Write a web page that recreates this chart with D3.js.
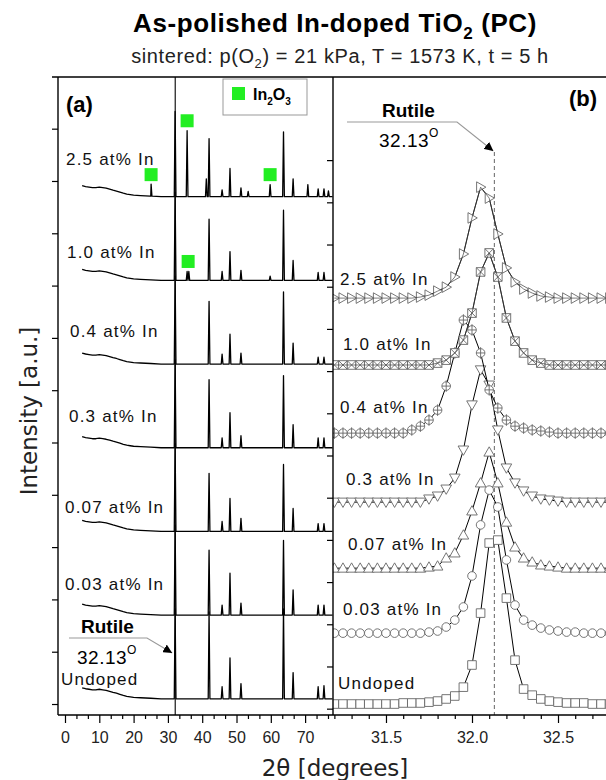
<!DOCTYPE html>
<html><head><meta charset="utf-8">
<script src="https://cdn.jsdelivr.net/npm/d3@7/dist/d3.min.js"></script>
<style>html,body{margin:0;padding:0;background:#fff}svg{display:block}</style>
</head><body>
<script>
// ================= DATA =================
// Panel (a): XRD patterns (2θ in degrees, intensity a.u.)
const samplesA = ["Undoped","0.03 at% In","0.07 at% In","0.3 at% In","0.4 at% In","1.0 at% In","2.5 at% In"];
const offsetsA = [50, 850, 1650, 2450, 3250, 4050, 4850];
const backgroundA = [[5,105],[6,96],[7,91],[8,86],[9,86],[10,91],[11,86],[12,81],[13,72],[14,62],[15,53],[16,43],[17,33],[18,24],[19,19],[20,14],[22,10],[25,5],[28,0],[78,0]];
const peaksUndoped = [[32.1,860],[42.0,830],[45.8,115],[48.1,390],[51.3,145],[63.7,860],[66.5,250],[73.8,115],[75.5,125]];
const peaks003 = [[32.1,860],[42.0,620],[45.8,95],[48.1,400],[51.3,115],[63.7,715],[66.5,240],[73.8,95],[75.5,95]];
const peaks007 = [[32.1,840],[42.0,555],[45.8,95],[48.1,315],[51.3,125],[63.7,640],[66.5,220],[73.8,75],[75.5,75]];
const peaks03 = [[32.1,840],[42.0,650],[45.8,95],[48.1,335],[51.3,115],[63.7,690],[66.5,220],[73.8,95],[75.5,95]];
const peaks04 = [[32.1,840],[42.0,600],[45.8,95],[48.1,285],[51.3,105],[63.7,690],[66.5,200],[73.8,65],[75.5,65]];
const peaks10 = [[32.1,840],[35.6,85],[36.1,85],[42.0,585],[45.8,85],[48.1,275],[51.3,95],[59.8,40],[63.7,670],[66.5,190],[73.8,75],[75.5,75]];
const peaks25 = [[25.1,115],[32.1,815],[35.6,630],[41.2,170],[42.0,555],[45.8,65],[48.1,270],[51.3,85],[53.4,50],[59.8,115],[63.7,620],[66.5,170],[70.8,115],[73.8,75],[75.5,75],[76.8,55]];
// In2O3 reflections marked with green squares
const in2o3Theta = [25.1, 35.6, 59.8, 35.9];
const in2o3Sample = [6, 6, 6, 5];
const in2o3Height = [115, 630, 115, 85];
const xTicksA = [0,10,20,30,40,50,60,70];
const yTicksA = [0,500,1000,1500,2000,2500,3000,3500,4000,4500,5000,5500];
const rutilePeak = 32.13;

// Panel (b): zoom on the rutile reflection
const thetaB = [31.20,31.25,31.30,31.35,31.40,31.45,31.50,31.55,31.60,31.65,31.70,31.75,31.80,31.85,31.90,31.95,32.00,32.05,32.10,32.15,32.20,32.25,32.30,32.35,32.40,32.45,32.50,32.55,32.60,32.65,32.70,32.75,32.80];
const intUndoped = [22,22,22,22,22,22,22,22,27,27,27,31,36,46,60,102,207,453,785,799,524,230,93,64,46,36,31,27,27,27,22,22,22];
const int003 = [358,358,358,358,358,358,358,358,358,358,358,363,368,387,420,482,629,871,1036,956,705,491,420,396,382,373,368,363,363,358,358,358,358];
const int007 = [666,666,666,666,666,666,666,666,666,666,666,671,676,714,738,823,937,1070,1216,1070,884,766,714,695,681,676,671,666,666,666,666,666,666];
const int03 = [979,979,979,979,979,979,979,979,979,979,979,994,1008,1041,1093,1226,1440,1606,1534,1321,1141,1070,1032,1008,994,989,984,979,979,979,979,979,979];
const int04 = [1306,1306,1306,1306,1306,1306,1306,1306,1306,1321,1339,1368,1415,1529,1686,1842,1795,1686,1511,1425,1368,1339,1330,1321,1316,1311,1306,1306,1306,1306,1306,1306,1306];
const int10 = [1629,1629,1629,1629,1629,1629,1629,1629,1629,1629,1629,1629,1638,1652,1686,1747,1875,2070,2160,2046,1852,1742,1686,1652,1638,1629,1629,1629,1629,1629,1629,1629,1629];
const int25 = [1946,1946,1946,1946,1946,1946,1946,1946,1946,1946,1951,1960,1979,1998,2046,2155,2326,2472,2420,2250,2089,2023,1989,1970,1956,1951,1946,1946,1946,1946,1946,1946,1946];
const xTicksB = [31.5, 32.0, 32.5];
const xMinorB = [31.2,31.3,31.4,31.6,31.7,31.8,31.9,32.1,32.2,32.3,32.4,32.6,32.7];
const yTicksB = [0,200,400,600,800,1000,1200,1400,1600,1800,2000,2200,2400,2600];

// ================= LAYOUT =================
const W = 606, H = 780;
const TOP = 77, BOT = 715;
const AL = 58, AR = 333, BL = 333, BR = 606;
const FONT = "'Liberation Sans', Arial, sans-serif";

const svg = d3.select("body").append("svg").attr("width", W).attr("height", H)
  .style("font-family", FONT);

const xA = d3.scaleLinear().domain([-2.04, 78.13]).range([AL, AR]);
const yA = d3.scaleLinear().domain([-105, 5994]).range([BOT, TOP]);
const xB = d3.scaleLinear().domain([31.192, 32.779]).range([BL, BR]);
const yB = d3.scaleLinear().domain([-30, 2994]).range([BOT, TOP]);

const defs = svg.append("defs");
defs.append("clipPath").attr("id","clipA").append("rect").attr("x",AL).attr("y",TOP).attr("width",AR-AL).attr("height",BOT-TOP);
defs.append("clipPath").attr("id","clipB").append("rect").attr("x",BL).attr("y",TOP-2).attr("width",BR-BL+10).attr("height",BOT-TOP+2);
defs.append("marker").attr("id","arr").attr("viewBox","0 0 10 10").attr("refX",10).attr("refY",5)
  .attr("markerWidth",9).attr("markerHeight",9).attr("markerUnits","userSpaceOnUse").attr("orient","auto")
  .append("path").attr("d","M0,0L10,5L0,10z").attr("fill","#000");

// ---------- Titles ----------
const title = svg.append("text").attr("x", 335).attr("y", 32).attr("text-anchor","middle")
  .attr("font-size", 26).attr("font-weight","bold").attr("letter-spacing", 0.6);
title.append("tspan").text("As-polished In-doped TiO");
title.append("tspan").attr("font-size", 17).attr("dy", 7).text("2");
title.append("tspan").attr("dy", -7).text(" (PC)");

const sub = svg.append("text").attr("x", 340).attr("y", 63).attr("text-anchor","middle")
  .attr("font-size", 20).attr("letter-spacing", 0.6).attr("fill","#222");
sub.append("tspan").text("sintered: p(O");
sub.append("tspan").attr("font-size", 13).attr("dy", 5).text("2");
sub.append("tspan").attr("dy", -5).text(") = 21 kPa, T = 1573 K, t = 5 h");

// ---------- Panel (a) ----------
const gA = svg.append("g").attr("clip-path","url(#clipA)");
const bgScale = d3.scaleLinear().domain(backgroundA.map(d=>d[0])).range(backgroundA.map(d=>d[1])).clamp(true);
const peakSets = [peaksUndoped, peaks003, peaks007, peaks03, peaks04, peaks10, peaks25];
const HW = 0.25;
const lineA = d3.line().x(d=>xA(d[0])).y(d=>yA(d[1]));
peakSets.forEach((peaks, i) => {
  const off = offsetsA[i];
  let pts = backgroundA.map(d => [d[0], d[1] + off]);
  peaks.forEach(p => {
    pts.push([p[0]-HW, bgScale(p[0]-HW) + off]);
    pts.push([p[0], bgScale(p[0]) + p[1] + off]);
    pts.push([p[0]+HW, bgScale(p[0]+HW) + off]);
  });
  pts.sort((a,b)=>a[0]-b[0]);
  gA.append("path").attr("d", lineA(pts)).attr("fill","none").attr("stroke","#000").attr("stroke-width",1.3)
    .attr("stroke-linejoin","round");
});
gA.append("line").attr("x1", xA(rutilePeak)).attr("x2", xA(rutilePeak)).attr("y1", TOP).attr("y2", BOT)
  .attr("stroke","#000").attr("stroke-width",1.1);
in2o3Theta.forEach((t, k) => {
  const cy = yA(offsetsA[in2o3Sample[k]] + in2o3Height[k]) - 10;
  svg.append("rect").attr("x", xA(t)-6.5).attr("y", cy-6.5).attr("width",13).attr("height",13).attr("fill","#22ee22");
});
const labelYA = [685, 590, 513, 422, 337, 258, 165];
const labelXA = [61, 65, 65, 69, 70, 67, 66];
samplesA.forEach((s,i)=>{
  svg.append("text").attr("x", labelXA[i]).attr("y", labelYA[i]).attr("font-size", 17).attr("letter-spacing", 1.2)
    .attr("fill","#111").text(s);
});
svg.append("text").attr("x", 66).attr("y", 112).attr("font-size", 22).attr("font-weight","bold").text("(a)");

// legend
svg.append("rect").attr("x",223).attr("y",79).attr("width",84).attr("height",36).attr("fill","#fff").attr("stroke","#999").attr("stroke-width",1);
svg.append("rect").attr("x",232).attr("y",87).attr("width",13).attr("height",13).attr("fill","#22ee22");
const lg = svg.append("text").attr("x",253).attr("y",100).attr("font-size",16).attr("font-weight","bold");
lg.append("tspan").text("In");
lg.append("tspan").attr("font-size",10).attr("dy",5).text("2");
lg.append("tspan").attr("dy",-5).text("O");
lg.append("tspan").attr("font-size",10).attr("dy",5).text("3");

// Rutile annotation (a)
svg.append("text").attr("x",81).attr("y",633).attr("font-size",19).attr("font-weight","bold").text("Rutile");
svg.append("path").attr("d",`M69,638H147L${xA(rutilePeak)-3},653`).attr("fill","none").attr("stroke","#999").attr("stroke-width",1.1)
  .attr("marker-end","url(#arr)");
const ra = svg.append("text").attr("x",77).attr("y",664).attr("font-size",19).attr("letter-spacing",0.5);
ra.append("tspan").text("32.13");
ra.append("tspan").attr("font-size",12).attr("dy",-10).text("O");

// axes (a)
svg.append("g").attr("transform",`translate(0,${BOT})`)
  .call(d3.axisBottom(xA).tickValues(xTicksA).tickSize(8).tickSizeOuter(0).tickFormat(d3.format("d")));
const minorA = [];
xTicksA.forEach(m => { minorA.push(m + 10/3, m + 20/3); });
svg.append("g").attr("transform",`translate(0,${BOT})`)
  .call(d3.axisBottom(xA).tickValues(minorA.filter(v=>v<78)).tickSize(4).tickSizeOuter(0).tickFormat(""));
svg.append("g").attr("transform",`translate(${AL},0)`)
  .call(d3.axisLeft(yA).tickValues(yTicksA).tickSize(6).tickSizeOuter(0).tickFormat(""));

// ---------- Panel (b) ----------
const gB = svg.append("g").attr("clip-path","url(#clipB)");
gB.append("line").attr("x1", xB(rutilePeak)).attr("x2", xB(rutilePeak)).attr("y1", 152).attr("y2", BOT)
  .attr("stroke","#666").attr("stroke-width",1).attr("stroke-dasharray","4,3");

const seriesB = [intUndoped, int003, int007, int03, int04, int10, int25];
const shapes = ["square","circle","up","down","cplus","sqx","right"];
const lineB = d3.line().x((d,i)=>xB(thetaB[i])).y(d=>yB(d));
function marker(g, type, x, y){
  const s = 4.3, c = "#666", w = 0.9;
  const add = d => g.append("path").attr("d", d).attr("fill","#fff").attr("stroke",c).attr("stroke-width",w);
  const circ = r => `M${x+r},${y}A${r},${r},0,1,1,${x-r},${y}A${r},${r},0,1,1,${x+r},${y}`;
  if(type==="square") add(`M${x-s},${y-s}h${2*s}v${2*s}h${-2*s}z`);
  else if(type==="circle") add(circ(s));
  else if(type==="up") add(`M${x},${y-s-1}L${x+s+1},${y+s-0.3}L${x-s-1},${y+s-0.3}z`);
  else if(type==="down") add(`M${x},${y+s+1}L${x+s+1},${y-s+0.3}L${x-s-1},${y-s+0.3}z`);
  else if(type==="cplus"){ add(circ(s));
    g.append("path").attr("d",`M${x-s},${y}H${x+s}M${x},${y-s-1.5}V${y+s+1.5}`).attr("stroke",c).attr("stroke-width",w).attr("fill","none"); }
  else if(type==="sqx"){ add(`M${x-s},${y-s}h${2*s}v${2*s}h${-2*s}z`);
    g.append("path").attr("d",`M${x-s},${y-s}L${x+s},${y+s}M${x+s},${y-s}L${x-s},${y+s}`).attr("stroke",c).attr("stroke-width",w).attr("fill","none"); }
  else if(type==="right") add(`M${x+s+1},${y}L${x-s+0.3},${y-s-1}L${x-s+0.3},${y+s+1}z`);
}
seriesB.forEach((ser, i) => {
  gB.append("path").attr("d", lineB(ser)).attr("fill","none").attr("stroke","#000").attr("stroke-width",1);
  const gm = gB.append("g");
  ser.forEach((v, j) => marker(gm, shapes[i], xB(thetaB[j]), yB(v)));
  if(shapes[i]==="right" || shapes[i]==="sqx"){ gB.append("path").attr("d", lineB(ser)).attr("fill","none").attr("stroke","#444").attr("stroke-width",0.7); }
});
const labelYB = [689, 615, 550, 485, 413, 350, 285];
const labelXB = [338, 343, 348, 346, 340, 343, 340];
samplesA.forEach((s,i)=>{
  svg.append("text").attr("x", labelXB[i]).attr("y", labelYB[i]).attr("font-size", 17).attr("letter-spacing", 1.2)
    .attr("fill","#111").text(s);
});
svg.append("text").attr("x", 569).attr("y", 106).attr("font-size", 22).attr("font-weight","bold").text("(b)");
svg.append("text").attr("x",382).attr("y",117).attr("font-size",19).attr("font-weight","bold").text("Rutile");
svg.append("path").attr("d",`M347,122H457L${xB(rutilePeak)-1},151`).attr("fill","none").attr("stroke","#999").attr("stroke-width",1.1)
  .attr("marker-end","url(#arr)");
const rb = svg.append("text").attr("x",379).attr("y",147).attr("font-size",19).attr("letter-spacing",0.5);
rb.append("tspan").text("32.13");
rb.append("tspan").attr("font-size",12).attr("dy",-10).text("O");

// axes (b)
svg.append("g").attr("transform",`translate(0,${BOT})`)
  .call(d3.axisBottom(xB).tickValues(xTicksB).tickSize(8).tickSizeOuter(0).tickFormat(d3.format(".1f")));
svg.append("g").attr("transform",`translate(0,${BOT})`)
  .call(d3.axisBottom(xB).tickValues(xMinorB).tickSize(4).tickSizeOuter(0).tickFormat(""));
svg.append("g").attr("transform",`translate(${BL},0)`)
  .call(d3.axisLeft(yB).tickValues(yTicksB).tickSize(6).tickSizeOuter(0).tickFormat(""));

svg.selectAll(".domain").remove();
svg.selectAll(".tick line").attr("stroke","#000").attr("stroke-width",1.2);
svg.selectAll(".tick text").attr("font-size",16).attr("font-family",FONT).attr("fill","#222").attr("dy","1.05em");

const frame = svg.append("g").attr("stroke","#000").attr("stroke-width",1.4);
frame.append("line").attr("x1",52).attr("x2",W).attr("y1",TOP).attr("y2",TOP);
frame.append("line").attr("x1",AL).attr("x2",AL).attr("y1",TOP).attr("y2",BOT);
frame.append("line").attr("x1",AR).attr("x2",AR).attr("y1",TOP).attr("y2",BOT);
frame.append("line").attr("x1",AL).attr("x2",W).attr("y1",BOT).attr("y2",BOT);

svg.append("text").attr("transform",`translate(37,411) rotate(-90)`).attr("text-anchor","middle")
  .attr("font-family","'DejaVu Sans', Verdana, sans-serif").attr("font-size",23).attr("fill","#222").text("Intensity [a.u.]");
svg.append("text").attr("x",335).attr("y",776).attr("text-anchor","middle")
  .attr("font-family","'DejaVu Sans', Verdana, sans-serif").attr("font-size",23).attr("fill","#222").text("2θ [degrees]");
</script>
</body></html>
